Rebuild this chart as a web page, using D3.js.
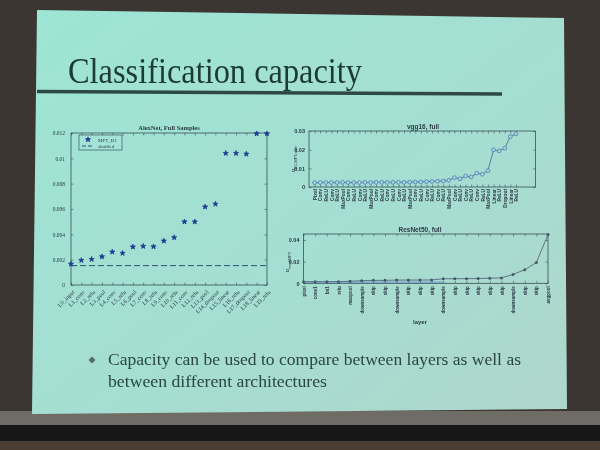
<!DOCTYPE html>
<html>
<head>
<meta charset="utf-8">
<script src="https://cdn.jsdelivr.net/npm/d3@7"></script>
<style>
  body { margin: 0; background: #3b3631; }
  svg { display: block; }
</style>
</head>
<body>
<script>
'use strict';

// ---- slide text ----
let slideTitle = "Classification capacity";
let bulletLines = ["Capacity can be used to compare between layers as well as", "between different architectures"];

// ---- AlexNet, Full Samples ----
let alexLabels = ["L0_input", "L1_conv", "L2_relu", "L3_pool", "L4_conv", "L5_relu", "L6_pool", "L7_conv", "L8_relu", "L9_conv",
    "L10_relu", "L11_conv", "L12_relu", "L13_pool", "L14_dropout", "L15_linear", "L16_relu", "L17_dropout", "L18_linear", "L19_relu"];
let alexMFT = [0.00166, 0.00195, 0.00203, 0.00224, 0.00261, 0.00251, 0.00301, 0.00306, 0.00303, 0.00348,
    0.00375, 0.00499, 0.00499, 0.00617, 0.00639, 0.01040, 0.01040, 0.01034, 0.01195, 0.01195];
let alexShuffled = 0.00153;
let alexYTicks = [0, 0.002, 0.004, 0.006, 0.008, 0.01, 0.012];
let alexLegend = ["MFT_D1", "shuffled"];

// ---- vgg16, full ----
let vggLabels = ["Pixel", "Conv", "ReLU", "Conv", "ReLU", "MaxPool", "Conv", "ReLU", "Conv", "ReLU", "MaxPool",
    "Conv", "ReLU", "Conv", "ReLU", "Conv", "ReLU", "MaxPool", "Conv", "ReLU", "Conv", "ReLU", "Conv", "ReLU", "MaxPool",
    "Conv", "ReLU", "Conv", "ReLU", "Conv", "ReLU", "MaxPool", "Linear", "ReLU", "Dropout", "Linear", "ReLU"];
let vggValues = [0.0023, 0.0024, 0.0024, 0.0024, 0.0024, 0.0025, 0.0024, 0.0024, 0.0024, 0.0025, 0.0024,
    0.0025, 0.0025, 0.0025, 0.0025, 0.0025, 0.0025, 0.0026, 0.0027, 0.0027, 0.0029, 0.0030, 0.0031, 0.0032, 0.0036,
    0.0050, 0.0044, 0.0059, 0.0054, 0.0074, 0.0068, 0.0088, 0.0199, 0.0193, 0.0208, 0.0270, 0.0285];
let vggYTicks = [0, 0.01, 0.02, 0.03];

// ---- ResNet50, full ----
let resLabels = ["pixel", "conv1", "bn1", "relu", "maxpool", "downsample", "skip", "skip", "downsample", "skip", "skip",
    "skip", "downsample", "skip", "skip", "skip", "skip", "skip", "downsample", "skip", "skip", "avgpool"];
let resValues = [0.0015, 0.0015, 0.0015, 0.0015, 0.0019, 0.0024, 0.0027, 0.0027, 0.0030, 0.0030, 0.0030,
    0.0031, 0.0042, 0.0042, 0.0043, 0.0044, 0.0047, 0.0050, 0.0082, 0.0125, 0.0192, 0.0450];
let resShuffled = [0.0011, 0.0011, 0.0011, 0.0011, 0.0011, 0.0011, 0.0011, 0.0011, 0.0011, 0.0011, 0.0011, 0.0011, 0.0011];
let resYTicks = [0, 0.02, 0.04];

let ink = "#2b3b47";
let fmt = d => d === 0 ? "0" : d3.format("~g")(d);

let svg = d3.select("body").append("svg")
    .attr("width", 600)
    .attr("height", 450);

let defs = svg.append("defs");
let grad = defs.append("linearGradient")
    .attr("id", "slideGrad")
    .attr("x1", 0).attr("y1", 0).attr("x2", 1).attr("y2", 1);
grad.append("stop").attr("offset", 0).attr("stop-color", "#9de5d4");
grad.append("stop").attr("offset", 0.55).attr("stop-color", "#a5ded2");
grad.append("stop").attr("offset", 1).attr("stop-color", "#afd6cc");
defs.append("filter").attr("id", "soft")
    .append("feGaussianBlur").attr("stdDeviation", 0.35);

// room behind the screen
svg.append("rect").attr("width", 600).attr("height", 450).attr("fill", "#3b3631");
svg.append("rect").attr("x", 0).attr("y", 411).attr("width", 600).attr("height", 15).attr("fill", "#6f6c66");
svg.append("rect").attr("x", 0).attr("y", 425).attr("width", 600).attr("height", 16).attr("fill", "#171717");
svg.append("rect").attr("x", 0).attr("y", 441).attr("width", 600).attr("height", 9).attr("fill", "#4b3d31");

svg.append("polygon")
    .attr("points", "37,10 564,18 567,409 32,414")
    .attr("fill", "url(#slideGrad)");

let slide = svg.append("g").attr("filter", "url(#soft)");

slide.append("text")
    .attr("x", 68)
    .attr("y", 83)
    .attr("font-family", "Liberation Serif")
    .attr("font-size", 36)
    .attr("textLength", 294)
    .attr("lengthAdjust", "spacingAndGlyphs")
    .attr("fill", "#1b3a33")
    .text(slideTitle);

slide.append("line")
    .attr("x1", 37).attr("y1", 91.5)
    .attr("x2", 502).attr("y2", 94)
    .attr("stroke", "#2f4a45")
    .attr("stroke-width", 3.5);

slide.append("path")
    .attr("transform", "translate(92,360)")
    .attr("d", d3.symbol(d3.symbolDiamond2, 30)())
    .attr("fill", "#4f6a70");

slide.selectAll("text.bullet")
    .data(bulletLines)
    .enter()
    .append("text")
    .attr("class", "bullet")
    .attr("x", 108)
    .attr("y", (d, i) => 365 + i * 22)
    .attr("font-family", "Liberation Serif")
    .attr("font-size", 17.5)
    .attr("textLength", (d, i) => i === 0 ? 413 : 219)
    .attr("lengthAdjust", "spacingAndGlyphs")
    .attr("fill", "#2a4742")
    .text(d => d);

drawAlex();
drawVgg();
drawResnet();

function boxAxes(g, x, y, xTicks, yTicks, box) {
    g.append("rect")
        .attr("x", box.left).attr("y", box.top)
        .attr("width", box.right - box.left).attr("height", box.bottom - box.top)
        .attr("fill", "none").attr("stroke", ink).attr("stroke-width", 0.7);

    let axes = [
        [d3.axisTop(x).tickValues(xTicks), "translate(0," + box.top + ")"],
        [d3.axisRight(y).tickValues(yTicks), "translate(" + box.right + ",0)"]
    ];
    for (let a of axes) {
        g.append("g")
            .attr("transform", a[1])
            .call(a[0].tickSizeInner(-2.5).tickSizeOuter(0).tickFormat(""))
            .call(s => s.select(".domain").remove())
            .call(s => s.selectAll("line").attr("stroke", ink).attr("stroke-width", 0.5));
    }
}

function drawAlex() {
    let box = {left: 71, right: 267, top: 133, bottom: 285};
    let g = slide.append("g");

    let x = d3.scalePoint()
        .domain(alexLabels)
        .range([box.left, box.right]);
    let y = d3.scaleLinear()
        .domain([0, 0.012])
        .range([box.bottom, box.top]);

    boxAxes(g, x, y, alexLabels, alexYTicks, box);

    g.append("g")
        .attr("transform", "translate(" + box.left + ",0)")
        .call(d3.axisLeft(y).tickValues(alexYTicks).tickFormat(fmt).tickSizeInner(-2.5).tickSizeOuter(0).tickPadding(6))
        .call(s => s.select(".domain").remove())
        .call(s => s.selectAll("line").attr("stroke", ink).attr("stroke-width", 0.5))
        .call(s => s.selectAll("text").attr("fill", ink).attr("font-family", "Liberation Serif").attr("font-size", 5.5));

    g.append("g")
        .attr("transform", "translate(0," + box.bottom + ")")
        .call(d3.axisBottom(x).tickSizeInner(-2.5).tickSizeOuter(0))
        .call(s => s.select(".domain").remove())
        .call(s => s.selectAll("line").attr("stroke", ink).attr("stroke-width", 0.5))
        .call(s => s.selectAll("text")
            .attr("x", 0).attr("y", 0).attr("dy", "0.35em")
            .attr("transform", "translate(2,6) rotate(-45)")
            .style("text-anchor", "end")
            .attr("fill", ink)
            .attr("font-family", "Liberation Serif")
            .attr("font-size", 5.8));

    g.append("text")
        .attr("x", (box.left + box.right) / 2)
        .attr("y", box.top - 3)
        .attr("text-anchor", "middle")
        .attr("font-family", "Liberation Serif")
        .attr("font-weight", "bold")
        .attr("font-size", 6.5)
        .attr("fill", ink)
        .text("AlexNet, Full Samples");

    g.append("line")
        .attr("x1", box.left).attr("x2", box.right)
        .attr("y1", y(alexShuffled)).attr("y2", y(alexShuffled))
        .attr("stroke", "#24406e")
        .attr("stroke-width", 0.9)
        .attr("stroke-dasharray", "6,3");

    let star = d3.symbol(d3.symbolStar, 8);
    g.selectAll("path.pt")
        .data(alexMFT)
        .enter()
        .append("path")
        .attr("class", "pt")
        .attr("transform", (d, i) => "translate(" + x(alexLabels[i]) + "," + y(d) + ")")
        .attr("d", star())
        .attr("fill", "#1c3a8e")
        .attr("stroke", "#1c3a8e")
        .attr("stroke-width", 0.8);

    // legend
    let lg = g.append("g").attr("transform", "translate(79,135)");
    lg.append("rect")
        .attr("width", 43).attr("height", 15)
        .attr("fill", "#a3e4d6").attr("stroke", ink).attr("stroke-width", 0.6);
    lg.append("path")
        .attr("transform", "translate(9,4.5)")
        .attr("d", star())
        .attr("fill", "#1c3a8e").attr("stroke", "#1c3a8e").attr("stroke-width", 0.8);
    lg.append("line")
        .attr("x1", 3).attr("x2", 15).attr("y1", 11).attr("y2", 11)
        .attr("stroke", "#24406e").attr("stroke-width", 0.9).attr("stroke-dasharray", "4,2");
    lg.selectAll("text")
        .data(alexLegend)
        .enter()
        .append("text")
        .attr("x", 19)
        .attr("y", (d, i) => 6.5 + i * 6)
        .attr("font-family", "Liberation Serif")
        .attr("font-size", 5)
        .attr("fill", ink)
        .text(d => d);
}

function drawVgg() {
    let box = {left: 309, right: 535.5, top: 131, bottom: 187};
    let g = slide.append("g");
    let idx = d3.range(vggLabels.length);

    let x = d3.scaleLinear()
        .domain([-1, 39.5])
        .range([box.left, box.right]);
    let y = d3.scaleLinear()
        .domain([0, 0.03])
        .range([box.bottom, box.top]);

    boxAxes(g, x, y, idx, vggYTicks, box);

    g.append("g")
        .attr("transform", "translate(" + box.left + ",0)")
        .call(d3.axisLeft(y).tickValues(vggYTicks).tickFormat(fmt).tickSizeInner(-2.5).tickSizeOuter(0).tickPadding(4))
        .call(s => s.select(".domain").remove())
        .call(s => s.selectAll("line").attr("stroke", ink).attr("stroke-width", 0.5))
        .call(s => s.selectAll("text").attr("fill", ink).attr("font-family", "Liberation Sans").attr("font-weight", "bold").attr("font-size", 5.5));

    g.append("g")
        .attr("transform", "translate(0," + box.bottom + ")")
        .call(d3.axisBottom(x).tickValues(idx).tickFormat(i => vggLabels[i]).tickSizeInner(-2.5).tickSizeOuter(0))
        .call(s => s.select(".domain").remove())
        .call(s => s.selectAll("line").attr("stroke", ink).attr("stroke-width", 0.5))
        .call(s => s.selectAll("text")
            .attr("x", 0).attr("y", 0).attr("dy", "0.35em")
            .attr("transform", "translate(0,2) rotate(-90)")
            .style("text-anchor", "end")
            .attr("fill", ink)
            .attr("font-family", "Liberation Sans")
            .attr("font-weight", "bold")
            .attr("font-size", 4.8));

    g.append("text")
        .attr("x", 423)
        .attr("y", box.top - 2.5)
        .attr("text-anchor", "middle")
        .attr("font-family", "Liberation Sans")
        .attr("font-weight", "bold")
        .attr("font-size", 6.5)
        .attr("fill", ink)
        .text("vgg16, full");

    let yl = g.append("text")
        .attr("transform", "translate(295,159) rotate(-90)")
        .attr("text-anchor", "middle")
        .attr("font-family", "Liberation Sans")
        .attr("font-size", 5.5)
        .attr("fill", ink);
    yl.append("tspan").text("α");
    yl.append("tspan").attr("font-size", 4).attr("dy", 1.5).text("D1,MFT,com");

    let line = d3.line()
        .x((d, i) => x(i))
        .y(d => y(d));
    g.append("path")
        .attr("d", line(vggValues))
        .attr("fill", "none")
        .attr("stroke", "#50709a")
        .attr("stroke-width", 0.9);

    g.selectAll("circle")
        .data(vggValues)
        .enter()
        .append("circle")
        .attr("cx", (d, i) => x(i))
        .attr("cy", d => y(d))
        .attr("r", 1.9)
        .attr("fill", "#a8d9d6")
        .attr("stroke", "#4a78b8")
        .attr("stroke-width", 0.8);
}

function drawResnet() {
    let box = {left: 303.5, right: 548, top: 234, bottom: 283.3};
    let g = slide.append("g");
    let idx = d3.range(resLabels.length);

    let x = d3.scaleLinear()
        .domain([0, resLabels.length - 1])
        .range([box.left, box.right]);
    let y = d3.scaleLinear()
        .domain([0, 0.0455])
        .range([box.bottom, box.top]);

    boxAxes(g, x, y, idx, resYTicks, box);

    g.append("g")
        .attr("transform", "translate(" + box.left + ",0)")
        .call(d3.axisLeft(y).tickValues(resYTicks).tickFormat(fmt).tickSizeInner(-2.5).tickSizeOuter(0).tickPadding(4))
        .call(s => s.select(".domain").remove())
        .call(s => s.selectAll("line").attr("stroke", ink).attr("stroke-width", 0.5))
        .call(s => s.selectAll("text").attr("fill", ink).attr("font-family", "Liberation Sans").attr("font-weight", "bold").attr("font-size", 5.5));

    g.append("g")
        .attr("transform", "translate(0," + box.bottom + ")")
        .call(d3.axisBottom(x).tickValues(idx).tickFormat(i => resLabels[i]).tickSizeInner(-2.5).tickSizeOuter(0))
        .call(s => s.select(".domain").remove())
        .call(s => s.selectAll("line").attr("stroke", ink).attr("stroke-width", 0.5))
        .call(s => s.selectAll("text")
            .attr("x", 0).attr("y", 0).attr("dy", "0.35em")
            .attr("transform", "translate(0,3) rotate(-90)")
            .style("text-anchor", "end")
            .attr("fill", ink)
            .attr("font-family", "Liberation Sans")
            .attr("font-weight", "bold")
            .attr("font-size", 4.5));

    g.append("text")
        .attr("x", 420)
        .attr("y", box.top - 2.5)
        .attr("text-anchor", "middle")
        .attr("font-family", "Liberation Sans")
        .attr("font-weight", "bold")
        .attr("font-size", 6.5)
        .attr("fill", ink)
        .text("ResNet50, full");

    g.append("text")
        .attr("x", 420)
        .attr("y", 324)
        .attr("text-anchor", "middle")
        .attr("font-family", "Liberation Sans")
        .attr("font-weight", "bold")
        .attr("font-size", 6)
        .attr("fill", ink)
        .text("layer");

    let yl = g.append("text")
        .attr("transform", "translate(289,262) rotate(-90)")
        .attr("text-anchor", "middle")
        .attr("font-family", "Liberation Sans")
        .attr("font-size", 5.5)
        .attr("fill", ink);
    yl.append("tspan").text("α");
    yl.append("tspan").attr("font-size", 4).attr("dy", 1.5).text("med,MFT");

    let line = d3.line()
        .x((d, i) => x(i))
        .y(d => y(d));
    g.append("path")
        .attr("d", line(resShuffled))
        .attr("fill", "none")
        .attr("stroke", "#5d8fd0")
        .attr("stroke-width", 0.9);
    g.append("path")
        .attr("d", line(resValues))
        .attr("fill", "none")
        .attr("stroke", "#56697a")
        .attr("stroke-width", 0.9);

    g.selectAll("circle")
        .data(resValues)
        .enter()
        .append("circle")
        .attr("cx", (d, i) => x(i))
        .attr("cy", d => y(d))
        .attr("r", 1.5)
        .attr("fill", "#45596a");
}
</script>
</body>
</html>
